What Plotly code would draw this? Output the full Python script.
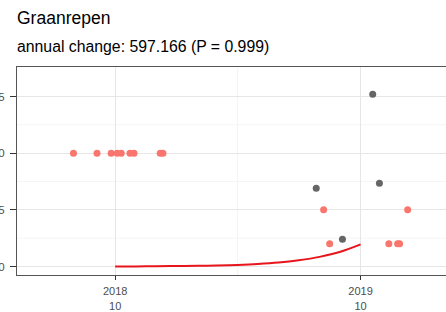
import plotly.graph_objects as go

# Data
red_dates = ["2018-07-31", "2018-09-04", "2018-09-25", "2018-10-04", "2018-10-10",
             "2018-10-23", "2018-10-29", "2018-12-07", "2018-12-11",
             "2019-08-07", "2019-08-16", "2019-11-12", "2019-11-25", "2019-11-28", "2019-12-10"]
red_values = [10, 10, 10, 10, 10, 10, 10, 10, 10, 5.0, 2.0, 2.0, 2.0, 2.0, 5.0]

gray_dates = ["2019-07-27", "2019-09-04", "2019-10-19", "2019-10-29"]
gray_values = [6.9, 2.4, 15.2, 7.35]

line_dates = ["2018-10-01", "2018-11-01", "2018-12-01", "2019-01-01", "2019-02-01",
              "2019-03-01", "2019-04-01", "2019-05-01", "2019-06-01", "2019-07-01",
              "2019-08-01", "2019-09-01", "2019-10-01"]
line_values = [0.0, 0.01, 0.02, 0.04, 0.06, 0.09, 0.14, 0.22, 0.35, 0.55, 0.85, 1.3, 1.95]

x_tickvals = ["2018-10-01", "2019-10-01"]
x_ticktext = ["2018<br>10", "2019<br>10"]
y_tickvals = [0, 5, 10, 15]
y_ticktext = ["0", "5", "10", "15"]

title_text = "Graanrepen"
subtitle_text = "annual change: 597.166 (P = 0.999)"

font_family = "Liberation Sans, Arial, sans-serif"

fig = go.Figure()
fig.add_trace(go.Scatter(x=line_dates, y=line_values, mode="lines", line_shape="spline",
                         line=dict(color="#e8151b", width=2), showlegend=False, hoverinfo="skip"))
fig.add_trace(go.Scatter(x=red_dates, y=red_values, mode="markers",
                         marker=dict(color="#F8766D", size=7), showlegend=False))
fig.add_trace(go.Scatter(x=gray_dates, y=gray_values, mode="markers",
                         marker=dict(color="#666666", size=7), showlegend=False))

# minor gridlines as shapes
minor_x = ["2019-04-01"]
minor_y = [2.5, 7.5, 12.5]
shapes = []
for d in minor_x:
    shapes.append(dict(type="line", xref="x", yref="paper", x0=d, x1=d, y0=0, y1=1,
                       line=dict(color="#f2f2f2", width=0.8), layer="below"))
for v in minor_y:
    shapes.append(dict(type="line", xref="paper", yref="y", x0=0, x1=1, y0=v, y1=v,
                       line=dict(color="#f2f2f2", width=0.8), layer="below"))

TOP = 67
BOTTOM = 275
H_PANEL = BOTTOM - TOP

fig.update_layout(
    width=446, height=312,
    margin=dict(l=17, r=0, t=TOP, b=312 - BOTTOM, pad=0),
    paper_bgcolor="white", plot_bgcolor="white",
    font=dict(family=font_family, color="#4d4d4d", size=12),
    shapes=shapes,
    annotations=[
        dict(text=title_text, xref="paper", yref="paper", x=0, y=1 + (TOP - 18) / H_PANEL,
             xanchor="left", yanchor="middle", showarrow=False, xshift=-2,
             font=dict(size=17.5, color="#000000", family=font_family)),
        dict(text=subtitle_text, xref="paper", yref="paper", x=0, y=1 + (TOP - 47) / H_PANEL,
             xanchor="left", yanchor="middle", showarrow=False, xshift=-2,
             font=dict(size=15.8, color="#000000", family=font_family)),
    ],
    xaxis=dict(
        type="date", range=["2018-05-08", "2020-02-05"],
        tickvals=x_tickvals, ticktext=x_ticktext,
        showgrid=True, gridcolor="#e6e6e6", gridwidth=1,
        zeroline=False, showline=True, linecolor="#555555", linewidth=1, mirror=True,
        ticks="outside", ticklen=4, tickcolor="#333333", tickwidth=1.2,
        ticklabelstandoff=2,
        tickfont=dict(size=11, color="#4d4d4d"), automargin=False,
    ),
    yaxis=dict(
        range=[-0.75, 17.6],
        tickvals=y_tickvals, ticktext=y_ticktext,
        showgrid=True, gridcolor="#e6e6e6", gridwidth=1,
        zeroline=False, showline=True, linecolor="#555555", linewidth=1, mirror=False,
        ticks="outside", ticklen=6, tickcolor="#333333", tickwidth=1.2,
        ticklabelstandoff=3,
        tickfont=dict(size=11.5, color="#4d4d4d"), automargin=False,
    ),
)

fig.write_html("out.html", config={"displayModeBar": False},
               post_script="document.body.style.margin='0';document.body.style.overflow='hidden';")
